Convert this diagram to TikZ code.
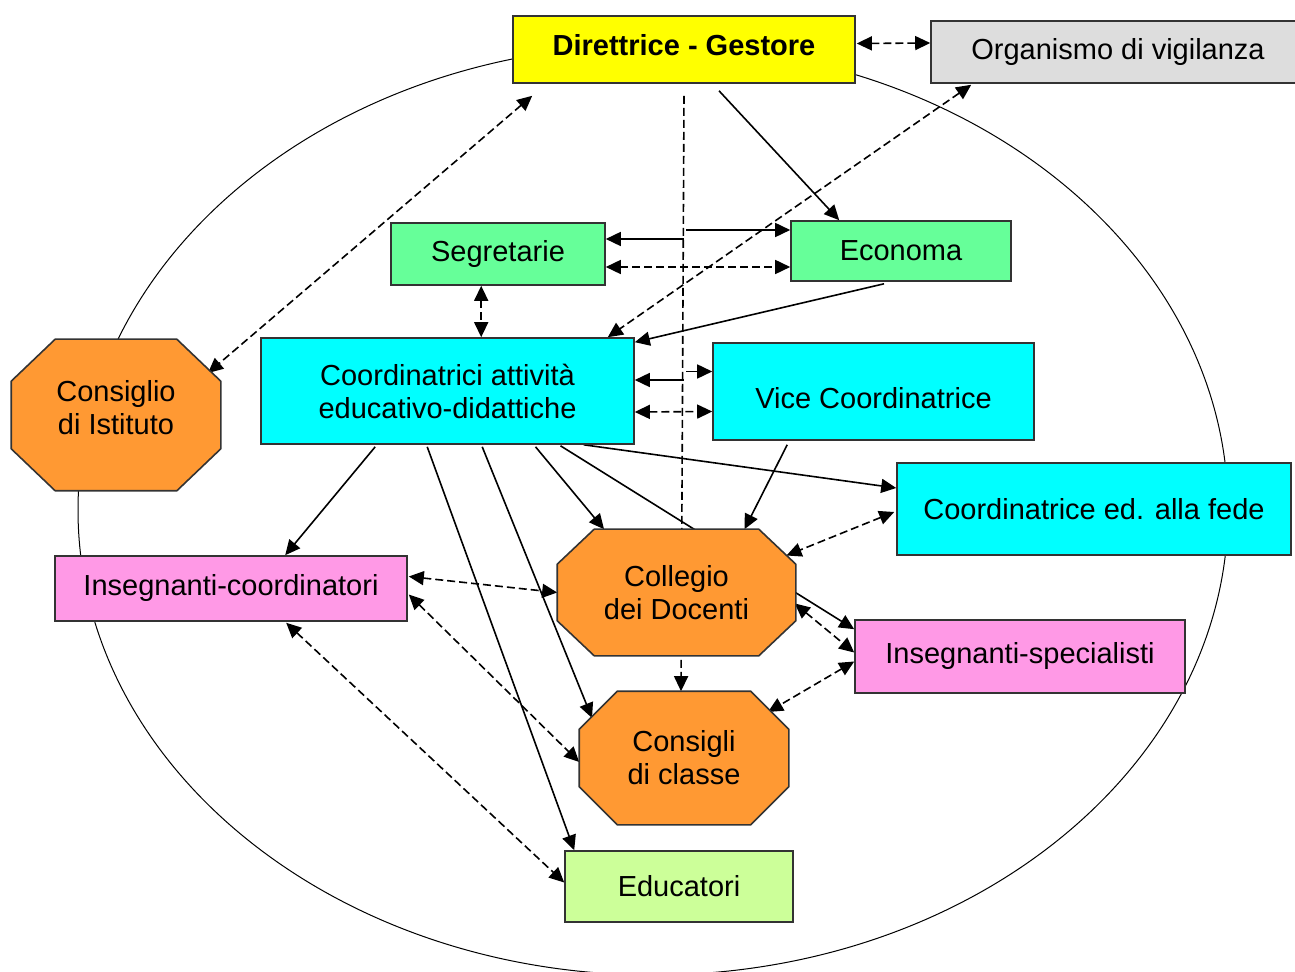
\documentclass[tikz,border=0pt]{standalone}
\usepackage{fontspec}
\setmainfont{Liberation Sans}
\usetikzlibrary{arrows.meta,calc,backgrounds}
\definecolor{giallo}{HTML}{FFFF00}
\definecolor{grigio}{HTML}{DDDDDD}
\definecolor{verde}{HTML}{66FF99}
\definecolor{ciano}{HTML}{00FFFF}
\definecolor{arancio}{HTML}{FF9933}
\definecolor{rosa}{HTML}{FF99E6}
\definecolor{verdino}{HTML}{CCFF99}
\tikzset{
bordo/.style={draw=black!80, line width=0.8pt},
box/.style={
	  bordo, rectangle, inner sep=0pt,
	    align=center, font=\fontsize{14.5}{16.5}\selectfont},
octo/.style={box, draw=none},
tratt/.style={dash pattern=on 4pt off 2pt},
conn/.style={line width=0.8pt, -{Triangle[length=7.5pt,width=7pt]}},
dconn/.style={conn, tratt, {Triangle[length=7.5pt,width=7pt]}-{Triangle[length=7.5pt,width=7pt]}}
}
% octagon round a node: node, cut in x, cut in y (px)
\newcommand{\ottagono}[3]{%
  \draw[bordo, fill=arancio] ($(#1.north west)+(#2,0)$) -- ($(#1.north east)+(-#2,0)$)
    -- ($(#1.north east)+(0,#3)$) -- ($(#1.south east)+(0,-#3)$)
    -- ($(#1.south east)+(-#2,0)$) -- ($(#1.south west)+(#2,0)$)
    -- ($(#1.south west)+(0,-#3)$) -- ($(#1.north west)+(0,#3)$) -- cycle;}

\begin{document}
\begin{tikzpicture}[x=0.5pt, y=-0.5pt]
	\useasboundingbox (0,0) rectangle (1295,972);
	\node[box, fill=giallo, minimum width=171pt, minimum height=33.5pt, text depth=4pt,
	  font=\fontsize{14.5}{16.5}\selectfont\bfseries] (dir) at (684,49.5) {Direttrice - Gestore};
	\node[box, fill=grigio, minimum width=187pt, minimum height=31pt] (org) at (1118,52) {Organismo di vigilanza};
	\node[box, fill=verde, minimum width=107pt, minimum height=31pt] (seg) at (498,254) {Segretarie};
	\node[box, fill=verde, minimum width=110pt, minimum height=30pt] (eco) at (901,251) {Economa};
	\node[box, fill=ciano, minimum width=186.5pt, minimum height=53pt] (coord) at (447.5,391)
	  {Coordinatrici attività\\educativo-didattiche};
	\node[box, fill=ciano, minimum width=160.5pt, minimum height=48.5pt, text height=17.5pt, text depth=0pt]
	  (vice) at (873.5,391.5) {Vice Coordinatrice};
	\node[box, fill=ciano, minimum width=197pt, minimum height=46pt] (fede) at (1094,509) {Coordinatrice ed. alla fede};
	\node[octo, minimum width=104pt, minimum height=75pt, text depth=7.5pt] (cist) at (116,415) {Consiglio\\di Istituto};
	\node[box, fill=rosa, minimum width=176pt, minimum height=32.5pt] (icoord) at (231,588.5) {Insegnanti-coordinatori};
	\node[octo, minimum width=118.5pt, minimum height=62.5pt] (coll) at (676.5,592.5) {Collegio\\dei Docenti};
	\node[box, fill=rosa, minimum width=165pt, minimum height=36.5pt] (ispec) at (1020,656.5) {Insegnanti-specialisti};
	\node[octo, minimum width=104pt, minimum height=66pt] (ccl) at (684,758) {Consigli\\di classe};
	\node[box, fill=verdino, minimum width=114pt, minimum height=35.5pt] (edu) at (679,886.5) {Educatori};

	\begin{scope}[on background layer]
	\draw[line width=0.5pt] (653,510) ellipse [x radius=287.5pt, y radius=232.5pt];
	% direttrice
	\draw[dconn] ($(dir.east)+(1,-6)$) -- ($(org.west)+(0,-9)$);
	\draw[conn] ($(dir.south)+(35,7)$) -- ($(eco.north west)+(49,0)$);
	\draw[conn, tratt] ($(dir.south)+(0,12)$) -- ($(ccl.north)+(-3,0)$);
	\draw[dconn] ($(dir.south west)+(20,12)$) -- ($(cist.center)+(92,-42)$);
	\draw[dconn] ($(org.south west)+(41,1)$) -- ($(coord.north east)+(-27,0)$);
	% segretarie, economa
	\draw[conn] ($(seg.east)+(78,-15)$) -- ($(seg.east)+(0,-15)$);
	\draw[conn] ($(eco.west)+(-104,-21)$) -- ($(eco.west)+(0,-21)$);
	\draw[dconn] ($(seg.east)+(0,13)$) -- ($(eco.west)+(0,16)$);
	\draw[dconn] ($(seg.south west)+(91,0)$) -- ($(coord.north west)+(221,0)$);
	\draw[conn] ($(eco.south)+(-17,2)$) -- ($(coord.north east)+(0,5)$);
	% coordinatrici
	\draw[conn] ($(coord.east)+(49,-11)$) -- ($(coord.east)+(0,-11)$);
	\draw[conn] ($(vice.west)+(-26,-20)$) -- ($(vice.west)+(0,-20)$);
	\draw[dconn] ($(coord.east)+(0,21)$) -- ($(vice.west)+(0,20)$);
	\draw[conn] ($(vice.south west)+(75,4)$) -- ($(coll.north)+(68,0)$);
	\draw[conn] ($(coord.south east)+(-51,0)$) -- ($(fede.west)+(0,-21)$);
	\draw[dconn] ($(fede.west)+(-2,3)$) -- ($(coll.center)+(110,-37)$);
	\draw[conn] ($(coord.south)+(88,2)$) -- ($(coll.north)+(-72.5,0)$);
	\draw[conn] ($(coord.south)+(113,1)$) -- ($(ispec.north west)+(0,10)$);
	\draw[conn] ($(coord.south west)+(115,2)$) -- ($(icoord.north west)+(231,0)$);
	\draw[conn] ($(coord.south west)+(222,2)$) -- ($(ccl.center)+(-92,-40)$);
	\draw[conn] ($(coord.south west)+(167,2)$) -- ($(edu.north west)+(10,0)$);
	% insegnanti
	\draw[dconn] ($(icoord.east)+(1,-12)$) -- (coll.west);
	\draw[dconn] ($(icoord.east)+(1,6)$) -- ($(ccl.west)+(0,4)$);
	\draw[dconn] ($(icoord.south west)+(232,1)$) -- ($(edu.west)+(0,-4)$);
	\draw[dconn] ($(coll.east)+(-1,11)$) -- ($(ispec.west)+(0,-4)$);
	\draw[dconn] ($(ispec.west)+(0,5)$) -- ($(ccl.center)+(84,-46)$);
	% ottagoni
	\ottagono{cist}{44}{42}
	\ottagono{coll}{37}{35}
	\ottagono{ccl}{38}{38}
	\end{scope}
\end{tikzpicture}
\end{document}
